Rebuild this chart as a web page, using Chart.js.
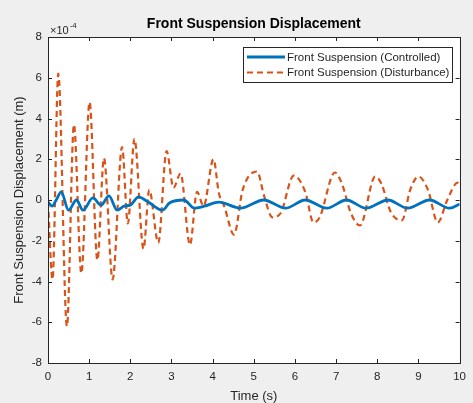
<!DOCTYPE html>
<html>
<head>
<meta charset="utf-8">
<script src="https://cdn.jsdelivr.net/npm/chart.js@4/dist/chart.umd.min.js"></script>
<style>
  html, body { margin: 0; padding: 0; background: #efefef; }
  #wrap { width: 473px; height: 403px; position: relative; }
</style>
</head>
<body>
<div id="wrap"><canvas id="c" width="473" height="403"></canvas></div>
<script>
// Values are in units of 1e-4 m (axis shows the x10^-4 multiplier)
const chartTitle = "Front Suspension Displacement";
const xTitle = "Time (s)";
const yTitle = "Front Suspension Displacement (m)";
const yExponent = "-4";
const xTickValues = [0, 1, 2, 3, 4, 5, 6, 7, 8, 9, 10];
const yTickValues = [-8, -6, -4, -2, 0, 2, 4, 6, 8];

const controlledLabel = "Front Suspension (Controlled)";
const controlledT = [0, 0.1, 0.2, 0.32, 0.5, 0.69, 0.85, 1.09, 1.29, 1.48, 1.68, 1.85, 2.0, 2.2, 2.4, 2.78, 2.95, 3.3, 3.56, 3.8, 4.15, 4.68, 5.24, 5.77, 6.25, 6.77, 7.25, 7.73, 8.26, 8.74, 9.27, 9.76, 10];
const controlledY = [-0.1, -0.3, 0.0, 0.4, -0.5, 0.0, -0.5, 0.1, -0.25, 0.2, -0.5, -0.3, -0.25, 0.15, -0.05, -0.5, -0.15, 0.0, -0.4, -0.3, -0.1, -0.4, 0.0, -0.4, 0.0, -0.4, 0.0, -0.4, 0.0, -0.4, 0.0, -0.4, -0.2];

const disturbanceLabel = "Front Suspension (Disturbance)";
const disturbanceT = [0, 0.11, 0.25, 0.46, 0.63, 0.81, 1.01, 1.2, 1.36, 1.57, 1.8, 1.94, 2.1, 2.32, 2.46, 2.68, 2.88, 3.05, 3.22, 3.45, 3.62, 3.78, 4.02, 4.15, 4.28, 4.52, 4.73, 5.08, 5.25, 5.45, 5.65, 5.97, 6.25, 6.45, 6.6, 6.97, 7.15, 7.35, 7.58, 7.95, 8.1, 8.33, 8.6, 8.8, 9.0, 9.23, 9.47, 9.7, 9.95, 10];
const disturbanceY = [-0.1, -3.9, 6.2, -6.2, 3.7, -3.6, 4.8, -2.95, 2.05, -3.9, 2.6, -1.15, 3.0, -2.4, 0.5, -2.1, 2.4, 0.6, 1.3, -2.2, 0.4, -0.3, 2.0, 0.35, -0.3, -1.7, 0.5, 1.4, 0.2, -0.85, -0.65, 1.2, 0.4, -1.1, -0.85, 1.35, 0.75, -0.6, -1.25, 1.15, 0.8, -0.6, -1.0, 0.5, 1.15, 0.5, -1.1, 0.0, 0.85, 0.8];

const toPoints = (ts, ys) => ts.map((t, i) => ({ x: t, y: ys[i] }));

const FONT = "'Liberation Sans', Arial, Helvetica, sans-serif";
const AXIS_COLOR = '#262626';

const framePlugin = {
  id: 'frame',
  beforeDraw(chart) {
    const { ctx, chartArea: a } = chart;
    ctx.save();
    ctx.fillStyle = '#efefef';
    ctx.fillRect(0, 0, chart.width, chart.height);
    ctx.fillStyle = '#ffffff';
    ctx.fillRect(a.left, a.top, a.right - a.left, a.bottom - a.top);
    ctx.restore();
  },
  afterDatasetsDraw(chart) {
    const { ctx, chartArea: a, scales } = chart;
    ctx.save();
    ctx.strokeStyle = AXIS_COLOR;
    ctx.lineWidth = 1;
    ctx.strokeRect(Math.round(a.left) + 0.5, Math.round(a.top) + 0.5, Math.round(a.right - a.left), Math.round(a.bottom - a.top));
    const tl = 4;
    ctx.beginPath();
    scales.x.ticks.forEach(t => {
      const px = Math.round(scales.x.getPixelForValue(t.value)) + 0.5;
      ctx.moveTo(px, a.bottom); ctx.lineTo(px, a.bottom - tl);
      ctx.moveTo(px, a.top); ctx.lineTo(px, a.top + tl);
    });
    scales.y.ticks.forEach(t => {
      const py = Math.round(scales.y.getPixelForValue(t.value)) + 0.5;
      ctx.moveTo(a.left, py); ctx.lineTo(a.left + tl, py);
      ctx.moveTo(a.right, py); ctx.lineTo(a.right - tl, py);
    });
    ctx.stroke();

    ctx.fillStyle = '#000000';
    ctx.font = 'bold 14px ' + FONT;
    ctx.textAlign = 'center';
    ctx.textBaseline = 'middle';
    ctx.fillText(chartTitle, (a.left + a.right) / 2, 24);

    ctx.fillStyle = AXIS_COLOR;
    ctx.textAlign = 'left';
    ctx.textBaseline = 'alphabetic';
    ctx.font = '11px ' + FONT;
    ctx.fillText('\u00d710', a.left + 2, a.top - 3);
    const w = ctx.measureText('\u00d710').width;
    ctx.font = '8px ' + FONT;
    ctx.fillText(yExponent, a.left + 2 + w + 1, a.top - 9);

    const lx = 243, ly = 47, lw = 209, lh = 35;
    ctx.fillStyle = '#ffffff';
    ctx.fillRect(lx, ly, lw, lh);
    ctx.strokeStyle = AXIS_COLOR;
    ctx.lineWidth = 1;
    ctx.strokeRect(lx + 0.5, ly + 0.5, lw, lh);
    chart.data.datasets.forEach((ds, i) => {
      const yy = ly + 10 + i * 15.5;
      ctx.strokeStyle = ds.borderColor;
      ctx.lineWidth = ds.borderWidth;
      ctx.setLineDash(ds.borderDash || []);
      ctx.beginPath();
      ctx.moveTo(lx + 4, yy); ctx.lineTo(lx + 42, yy);
      ctx.stroke();
      ctx.setLineDash([]);
      ctx.fillStyle = AXIS_COLOR;
      ctx.font = '11.5px ' + FONT;
      ctx.textAlign = 'left';
      ctx.textBaseline = 'middle';
      ctx.fillText(ds.label, lx + 44, yy + 0.5);
    });
    ctx.restore();
  }
};

new Chart(document.getElementById('c'), {
  type: 'line',
  data: {
    datasets: [
      {
        label: controlledLabel,
        data: toPoints(controlledT, controlledY),
        borderColor: '#0072BD',
        borderWidth: 2.8,
        pointRadius: 0,
        fill: false,
        cubicInterpolationMode: 'monotone'
      },
      {
        label: disturbanceLabel,
        data: toPoints(disturbanceT, disturbanceY),
        borderColor: '#D95319',
        borderWidth: 2.2,
        borderDash: [6, 4],
        pointRadius: 0,
        fill: false,
        cubicInterpolationMode: 'monotone'
      }
    ]
  },
  options: {
    responsive: false,
    animation: false,
    devicePixelRatio: 1,
    layout: { padding: { left: 0, right: 10, top: 37, bottom: 0 } },
    plugins: { legend: { display: false }, title: { display: false }, tooltip: { enabled: false } },
    scales: {
      x: {
        type: 'linear',
        min: 0, max: 10,
        afterFit: s => { s.height = 40; },
        afterBuildTicks: s => { s.ticks = xTickValues.map(v => ({ value: v })); },
        grid: { display: false, drawTicks: false },
        border: { display: false },
        ticks: { color: AXIS_COLOR, font: { family: FONT, size: 11.5 }, padding: 7, maxRotation: 0, autoSkip: false },
        title: { display: true, text: xTitle, color: AXIS_COLOR, font: { family: FONT, size: 13 }, padding: { top: 0, bottom: -1 } }
      },
      y: {
        type: 'linear',
        min: -8, max: 8,
        afterFit: s => { s.width = 48; },
        afterBuildTicks: s => { s.ticks = yTickValues.map(v => ({ value: v })); },
        grid: { display: false, drawTicks: false },
        border: { display: false },
        ticks: { color: AXIS_COLOR, font: { family: FONT, size: 11.5 }, padding: 6, autoSkip: false },
        title: { display: true, text: yTitle, color: AXIS_COLOR, font: { family: FONT, size: 13 }, padding: { top: 12, bottom: 0 } }
      }
    }
  },
  plugins: [framePlugin]
});
</script>
</body>
</html>
